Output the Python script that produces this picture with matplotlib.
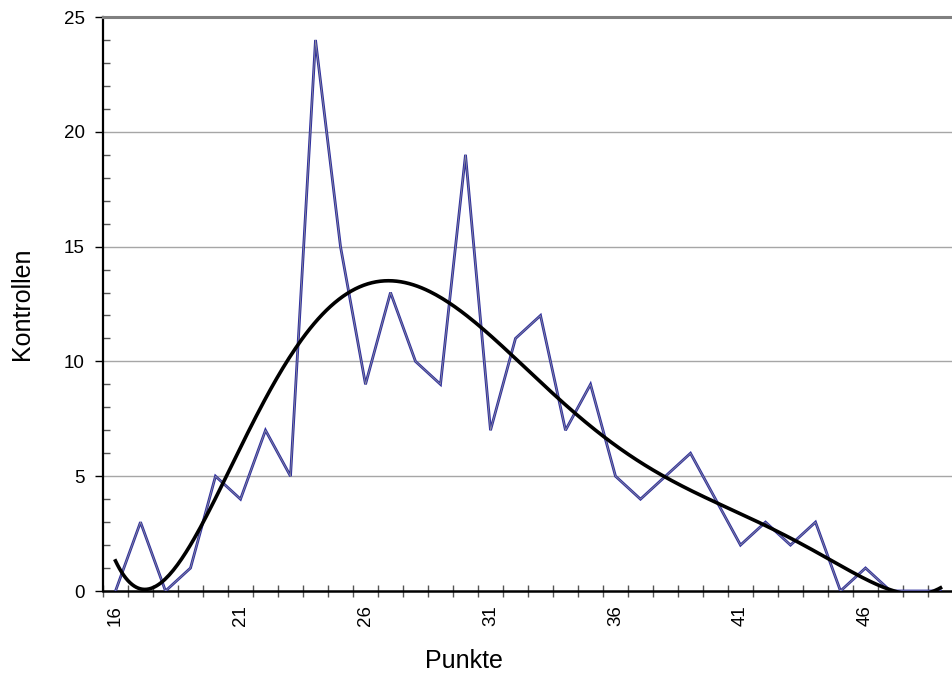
import numpy as np
import matplotlib
matplotlib.use("Agg")
import matplotlib.pyplot as plt
from matplotlib.ticker import MultipleLocator, FixedLocator

points = list(range(16, 50))
controls = [0, 3, 0, 1, 5, 4, 7, 5, 24, 15, 9, 13, 10, 9, 19, 7, 11, 12, 7, 9,
            5, 4, 5, 6, 4, 2, 3, 2, 3, 0, 1, 0, 0, 0]
xtick_labels = ["16", "21", "26", "31", "36", "41", "46"]

plt.rcParams['font.family'] = ['Liberation Sans', 'DejaVu Sans']

fig = plt.figure(figsize=(9.53, 6.75), dpi=100)
ax = fig.add_axes([103/953, 1-591/675, 1-103/953, (591-17)/675])

x = np.array(points, dtype=float)
y = np.array(controls, dtype=float)

# polynomial trendline fitted to the data
coef = np.polyfit(x, y, 6)
xs = np.linspace(x[0], x[-1], 400)
ys = np.polyval(coef, xs)

for g in [5, 10, 15, 20]:
    ax.axhline(g, color='#a6a6a6', lw=1.0, zorder=1)

ax.plot(x, y, color='#2e2e9e', lw=2.0, zorder=3, solid_joinstyle='miter')
ax.plot(x, y, color='#8a8a9a', lw=0.6, zorder=4, solid_joinstyle='miter')
ax.plot(xs, ys, color='black', lw=2.6, zorder=5, clip_on=True)

ax.set_xlim(15.5, 49.5)
ax.set_ylim(0, 25)

ax.spines['right'].set_visible(False)
ax.spines['top'].set_color('#808080')
ax.spines['top'].set_linewidth(2.2)
ax.spines['left'].set_linewidth(1.6)
ax.spines['bottom'].set_linewidth(1.8)

ax.xaxis.set_major_locator(FixedLocator([int(t) for t in xtick_labels]))
ax.set_xticklabels(xtick_labels, rotation=90, fontsize=13.5)
ax.xaxis.set_minor_locator(FixedLocator(np.arange(15.5, 50, 1.0)))
ax.tick_params(axis='x', which='major', length=0, pad=10)
ax.tick_params(axis='x', which='minor', direction='inout', length=8, width=1, color='#555555')

ax.yaxis.set_major_locator(MultipleLocator(5))
ax.yaxis.set_minor_locator(MultipleLocator(1))
ax.tick_params(axis='y', which='major', direction='out', length=6, width=1, labelsize=13.5, pad=7)
ax.tick_params(axis='y', which='minor', direction='in', length=5, width=1, color='#555555')

ax.set_xlabel("Punkte", fontsize=18)
ax.xaxis.set_label_coords((464-103)/850, (591-661)/574)
ax.xaxis.label.set_va('center')
ax.set_ylabel("Kontrollen", fontsize=18)
ax.yaxis.set_label_coords((22-103)/850, 0.5)
ax.yaxis.label.set_va('center')

fig.savefig("out.png", dpi=100)
